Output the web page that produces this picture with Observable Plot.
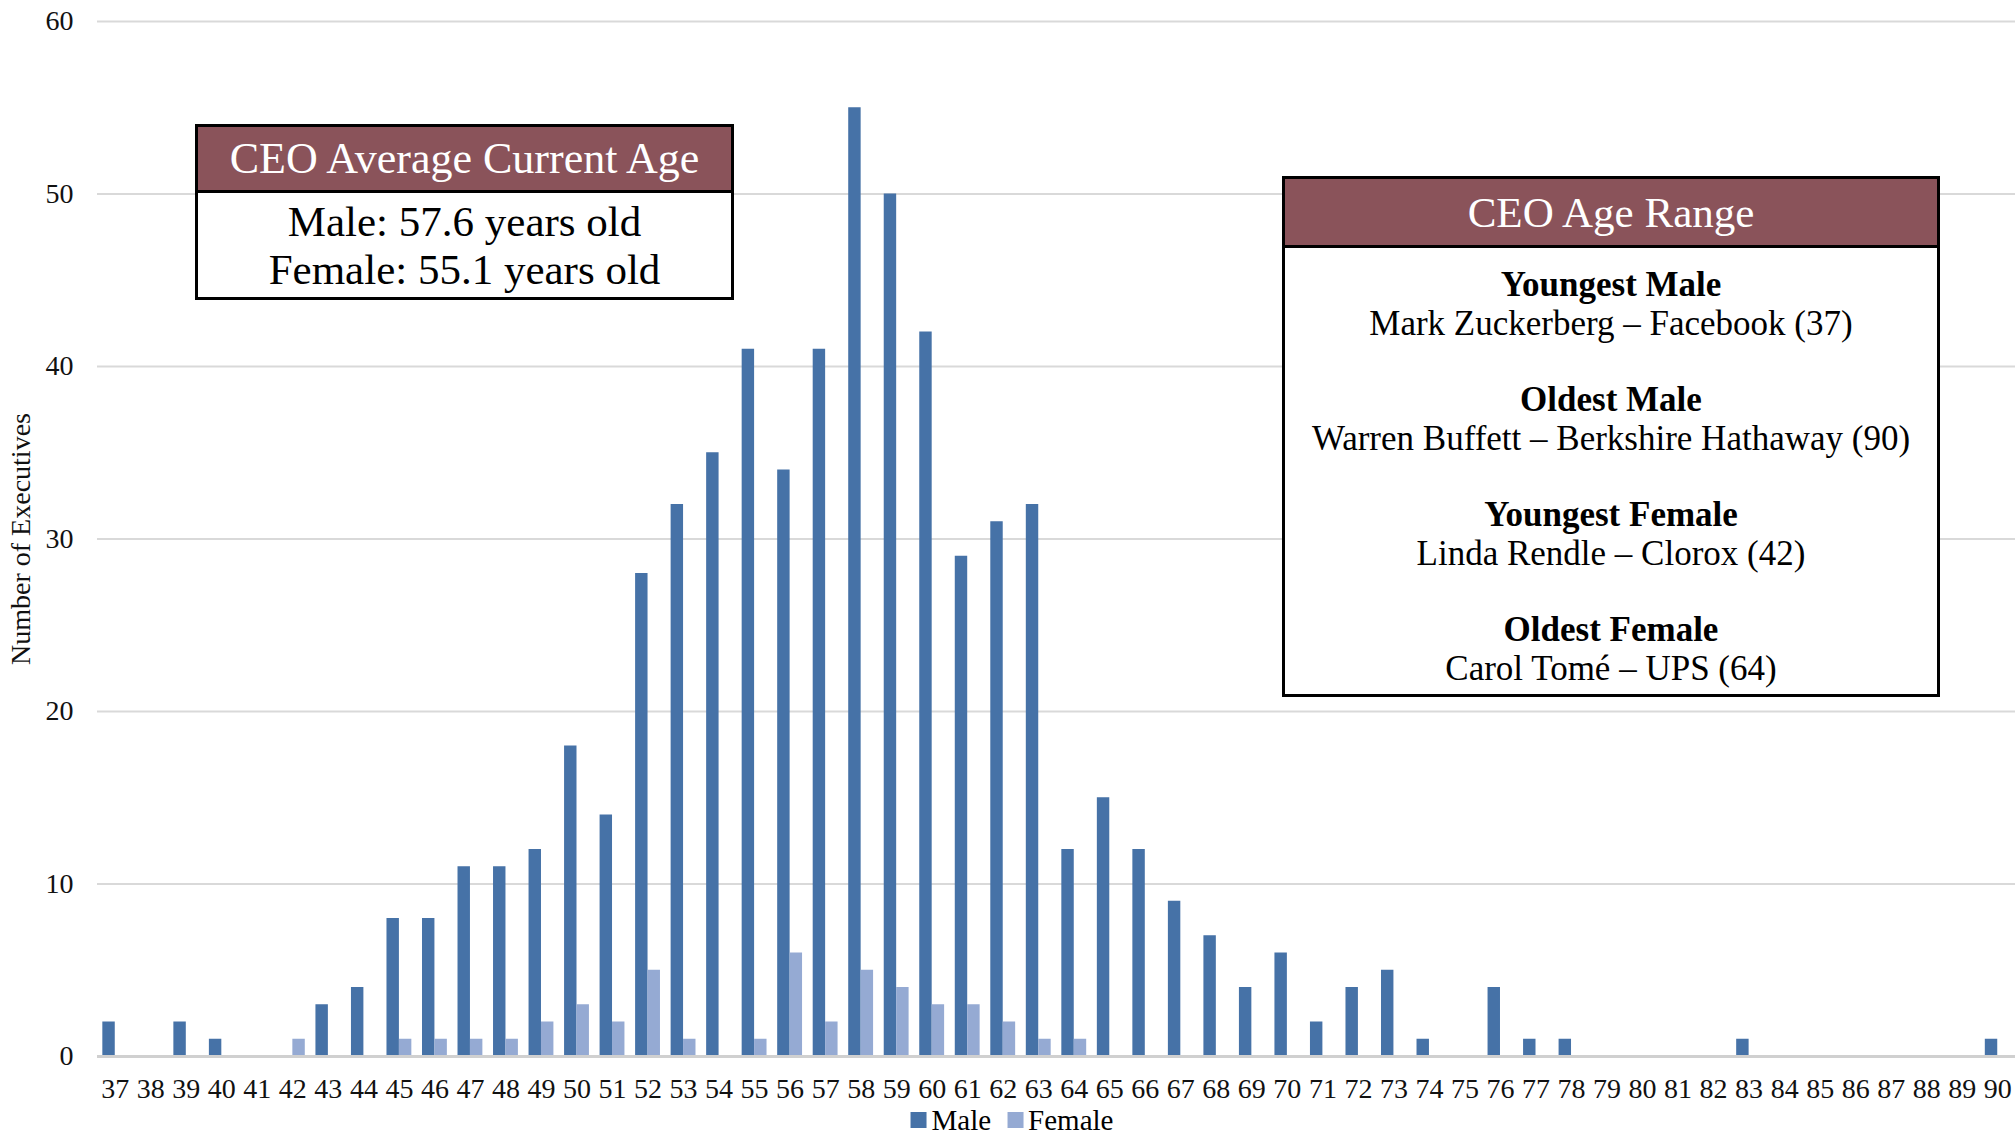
<!DOCTYPE html>
<html>
<head>
<meta charset="utf-8">
<script src="https://cdn.jsdelivr.net/npm/d3@7"></script>
<script src="https://cdn.jsdelivr.net/npm/@observablehq/plot@0.6"></script>
<style>
  html, body { margin: 0; padding: 0; background: #fff; }
  body { width: 2016px; height: 1133px; position: relative; overflow: hidden; font-family: 'Liberation Serif', serif; color: #000; }
  .box { position: absolute; background: #fff; border: 3px solid #000; box-sizing: border-box; text-align: center; }
  .box .hdr { background: #8a535a; color: #fff; border-bottom: 3px solid #000; box-sizing: border-box; display: flex; align-items: center; justify-content: center; }
  .legend { position: absolute; top: 1105px; left: 1012px; transform: translateX(-50%); font-size: 29px; white-space: nowrap; line-height: 30px; display: flex; align-items: center; }
  .legend .sw { display: inline-block; width: 16px; height: 16px; margin-right: 5px; }
  .legend .item { display: flex; align-items: center; margin: 0 8px; }
</style>
</head>
<body>
<div id="chart"></div>
<script>
const ages = [37,38,39,40,41,42,43,44,45,46,47,48,49,50,51,52,53,54,55,56,57,58,59,60,61,62,63,64,65,66,67,68,69,70,71,72,73,74,75,76,77,78,79,80,81,82,83,84,85,86,87,88,89,90];
const male = [2,0,2,1,0,0,3,4,8,8,11,11,12,18,14,28,32,35,41,34,41,55,50,42,29,31,32,12,15,12,9,7,4,6,2,4,5,1,0,4,1,1,0,0,0,0,1,0,0,0,0,0,0,1];
const female = [0,0,0,0,0,1,0,0,1,1,1,1,2,3,2,5,1,0,1,6,2,5,4,3,3,2,1,1,0,0,0,0,0,0,0,0,0,0,0,0,0,0,0,0,0,0,0,0,0,0,0,0,0,0];
const seriesNames = ["Male", "Female"];
const seriesColors = ["#4672a7", "#95aad3"];
const yTicks = [0,10,20,30,40,50,60];
const yTitle = "Number of Executives";
const avgTitle = "CEO Average Current Age";
const avgLines = ["Male: 57.6 years old", "Female: 55.1 years old"];
const rangeTitle = "CEO Age Range";
const rangeItems = [
  ["Youngest Male", "Mark Zuckerberg – Facebook (37)"],
  ["Oldest Male", "Warren Buffett – Berkshire Hathaway (90)"],
  ["Youngest Female", "Linda Rendle – Clorox (42)"],
  ["Oldest Female", "Carol Tomé – UPS (64)"]
];

const W = 2016, H = 1104, mL = 97, mR = 1;
const step = (W - mL - mR) / ages.length;
const rows = ages.map((a, i) => ({age: a, male: male[i], female: female[i]}));

const chart = Plot.plot({
  width: W, height: H,
  marginLeft: mL, marginRight: mR, marginTop: 21, marginBottom: 48,
  x: {type: "band", domain: ages, padding: 0, round: false},
  y: {domain: [0, 60]},
  style: {fontFamily: "'Liberation Serif', serif", fontSize: "28px", color: "#111", background: "#fff"},
  marks: [
    Plot.gridY(yTicks, {stroke: "#d9d9d9", strokeOpacity: 1, strokeWidth: 2}),
    Plot.barY(rows, {x: "age", y: "male", fill: seriesColors[0], insetLeft: step * 0.15, insetRight: step * 0.5}),
    Plot.barY(rows, {x: "age", y: "female", fill: seriesColors[1], insetLeft: step * 0.5, insetRight: step * 0.15}),
    Plot.ruleY([0], {stroke: "#d0d0d0", strokeWidth: 3}),
    Plot.axisX({tickSize: 0, tickPadding: 22, label: null}),
    Plot.axisY(yTicks, {tickSize: 0, tickPadding: 24, label: null}),
    Plot.text([yTitle], {frameAnchor: "left", dx: -76, rotate: -90, textAnchor: "middle", fontSize: 28, fill: "#111"})
  ]
});
document.getElementById("chart").appendChild(chart);

// Average age box
const b1 = document.createElement("div");
b1.className = "box";
Object.assign(b1.style, {left: "195px", top: "124px", width: "539px", height: "176px"});
b1.innerHTML = `<div class="hdr" style="height:66px;font-size:44px;">${avgTitle}</div>` +
  `<div style="font-size:43px;line-height:48px;padding-top:5px;">${avgLines.map(s => `<div>${s}</div>`).join("")}</div>`;
document.body.appendChild(b1);

// Age range box
const b2 = document.createElement("div");
b2.className = "box";
Object.assign(b2.style, {left: "1282px", top: "176px", width: "658px", height: "521px"});
b2.innerHTML = `<div class="hdr" style="height:69px;font-size:43px;">${rangeTitle}</div>` +
  `<div style="font-size:35px;line-height:38.5px;padding-top:18px;">` +
  rangeItems.map(([h, t]) => `<div style="margin-bottom:38px;"><div style="font-weight:bold;">${h}</div><div>${t}</div></div>`).join("") +
  `</div>`;
document.body.appendChild(b2);

// Legend
const lg = document.createElement("div");
lg.className = "legend";
lg.innerHTML = seriesNames.map((n, i) => `<span class="item"><span class="sw" style="background:${seriesColors[i]}"></span>${n}</span>`).join("");
document.body.appendChild(lg);
</script>
</body>
</html>
